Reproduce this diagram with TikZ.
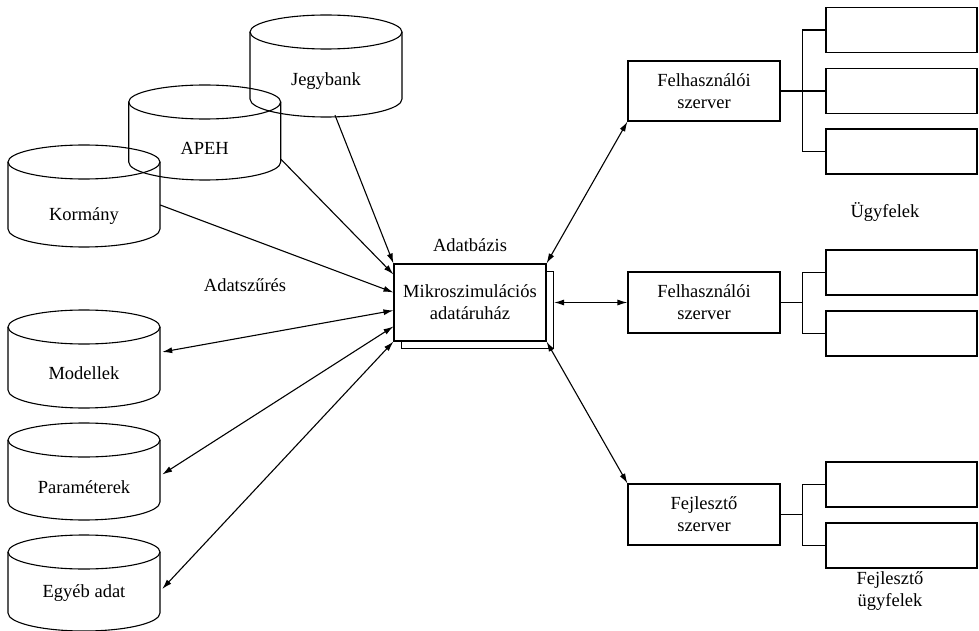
\documentclass[tikz,border=0pt]{standalone}
\usepackage{fontspec}
\setmainfont{Liberation Serif}
\usetikzlibrary{arrows.meta}
\newcommand{\cylshape}[6]{%
  \draw[ln] (#2,#3+17) ellipse [x radius=76pt, y radius=17pt];
  \draw[ln] (#2-76,#3+17) -- (#2-76,#4-18) arc[start angle=180, end angle=360, x radius=76pt, y radius=18pt] -- (#2+76,#3+17);
  \node[cylbox, minimum height={(#4-#3)*1pt}] (#1) at (#2,{(#3+#4)/2}) {};
  \node[txt] (#1-t) at (#2,#6) {#5};
}
\begin{document}
\begin{tikzpicture}[x=1pt,y=-1pt,
  ln/.style={line width=1.1pt},
  arr/.style={ln,-{Latex[length=10pt,width=6pt]}},
  darr/.style={ln,{Latex[length=10pt,width=6pt]}-{Latex[length=10pt,width=6pt]}},
  txt/.style={font=\fontsize{18.5}{22}\selectfont, align=center, inner sep=0pt},
  srv/.style={ln, draw, fill=white, minimum width=152pt, minimum height=60pt, txt},
  cli/.style={ln, draw, minimum width=151pt, minimum height=45pt, inner sep=0pt},
  cylbox/.style={inner sep=0pt, minimum width=152pt}
]
\useasboundingbox (0,0) rectangle (979,631);

% cylinders
\cylshape{jeg}{326}{15}{117}{Jegybank}{81}
\cylshape{apeh}{204.7}{85}{180}{APEH}{148}
\cylshape{kor}{84}{145}{247}{Kormány}{216}
\cylshape{mod}{84}{310}{408}{Modellek}{373}
\cylshape{par}{84}{423}{520}{Paraméterek}{487}
\cylshape{egy}{84}{535}{631}{Egyéb adat}{593}

% central database
\node[ln, draw, fill=white, minimum width=152pt, minimum height=77pt, inner sep=0pt] (dbs) at (477.5,310) {};
\node[ln, draw, fill=white, minimum width=152pt, minimum height=77pt, txt] (db) at (470,302.5) {Mikroszimulációs\\adatáruház};
\node[txt] (dbl) at (470,245) {Adatbázis};
\node[txt] (szur) at (245,285) {Adatszűrés};

% inputs
\draw[arr] ([xshift=9pt,yshift=2pt]jeg.south) -- (db.north west);
\draw[arr] ([yshift=21pt]apeh.south east) -- ([yshift=-11pt]db.north west);
\draw[arr] ([yshift=-9pt]kor.east) -- ([yshift=-29pt]db.north west);
\draw[darr] ([xshift=2pt,yshift=7pt]mod.east) -- ([yshift=-47pt]db.north west);
\draw[darr] ([xshift=2pt,yshift=-3pt]par.east) -- ([yshift=-63pt]db.north west);
\draw[darr] ([xshift=2pt,yshift=-6pt]egy.east) -- (db.south west);

% servers
\node[srv] (s1) at (704,91) {Felhasználói\\szerver};
\node[srv, minimum height=61pt] (s2) at (704,302.5) {Felhasználói\\szerver};
\node[srv, minimum height=61pt] (s3) at (704,514.5) {Fejlesztő\\szerver};

\draw[darr] (db.north east) -- (s1.south west);
\draw[darr] (dbs.east |- s2.west) -- (s2.west);
\draw[darr] (db.south east) -- (s3.north west);

% clients
\node[cli] (c11) at (901.5,30) {};
\node[cli] (c12) at (901.5,91) {};
\node[cli] (c13) at (901.5,151.5) {};
\node[cli] (c21) at (901.5,272.5) {};
\node[cli] (c22) at (901.5,333.5) {};
\node[cli] (c31) at (901.5,484.5) {};
\node[cli] (c32) at (901.5,545.5) {};

\coordinate (j1) at ([xshift=22pt]s1.east);
\coordinate (j2) at ([xshift=22pt]s2.east);
\coordinate (j3) at ([xshift=22pt]s3.east);
\draw[ln] (s1.east) -- (j1);
\draw[ln] (c11.west) -| (j1) |- (c13.west);
\draw[ln] (c12.west) -- (j1);
\draw[ln] (s2.east) -- (j2);
\draw[ln] (c21.west) -| (j2) |- (c22.west);
\draw[ln] (s3.east) -- (j3);
\draw[ln] (c31.west) -| (j3) |- (c32.west);

\node[txt] (ugy) at (885,212) {Ügyfelek};
\node[txt] (fugy) at (890,591) {Fejlesztő\\ügyfelek};
\end{tikzpicture}
\end{document}
